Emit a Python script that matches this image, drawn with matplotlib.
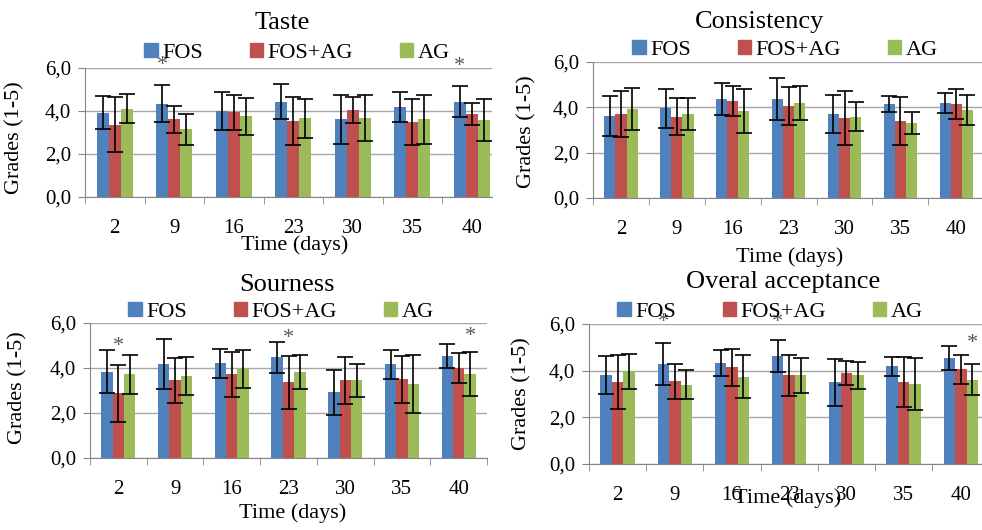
import numpy as np
import matplotlib
matplotlib.use('Agg')
import matplotlib.pyplot as plt
from matplotlib.patches import Rectangle
from matplotlib.ticker import FixedLocator, FuncFormatter

plt.rcParams['font.family'] = ['Liberation Serif', 'DejaVu Serif']

days = ['2', '9', '16', '23', '30', '35', '40']
groups = ['FOS', 'FOS+AG', 'AG']
colors = ['#4F81BD', '#C0504D', '#9BBB59']

# mean grades and standard deviations
taste_fos = [3.93, 4.33, 4.00, 4.44, 3.61, 4.20, 4.44]
taste_fos_sd = [0.76, 0.86, 0.88, 0.82, 1.13, 0.70, 0.72]
taste_mix = [3.35, 3.61, 3.94, 3.54, 4.05, 3.47, 3.86]
taste_mix_sd = [1.28, 0.63, 0.82, 1.10, 0.61, 1.07, 0.50]
taste_ag = [4.11, 3.15, 3.75, 3.66, 3.66, 3.61, 3.58]
taste_ag_sd = [0.69, 0.72, 0.87, 0.90, 1.07, 1.13, 0.97]

cons_fos = [3.63, 3.95, 4.36, 4.36, 3.69, 4.14, 4.20]
cons_fos_sd = [0.88, 0.87, 0.72, 0.94, 0.84, 0.34, 0.44]
cons_mix = [3.69, 3.59, 4.28, 4.06, 3.53, 3.41, 4.14]
cons_mix_sd = [1.02, 0.83, 0.66, 0.82, 1.17, 1.05, 0.66]
cons_ag = [3.91, 3.69, 3.84, 4.20, 3.59, 3.31, 3.88]
cons_ag_sd = [0.93, 0.71, 0.96, 0.76, 0.64, 0.50, 0.65]

sour_fos = [3.84, 4.17, 4.21, 4.48, 2.92, 4.17, 4.54]
sour_fos_sd = [0.97, 1.12, 0.65, 0.69, 0.99, 0.64, 0.53]
sour_mix = [2.87, 3.45, 3.72, 3.36, 3.45, 3.50, 3.99]
sour_mix_sd = [1.27, 1.00, 0.99, 1.17, 1.06, 1.05, 0.66]
sour_ag = [3.72, 3.66, 3.96, 3.84, 3.45, 3.29, 3.72]
sour_ag_sd = [0.86, 0.84, 0.86, 0.76, 0.75, 1.27, 0.97]

acc_fos = [3.80, 4.30, 4.33, 4.64, 3.50, 4.18, 4.54]
acc_fos_sd = [0.82, 0.90, 0.57, 0.69, 1.00, 0.39, 0.52]
acc_mix = [3.50, 3.54, 4.15, 3.80, 3.90, 3.50, 4.07]
acc_mix_sd = [1.16, 0.74, 0.80, 0.88, 0.53, 1.07, 0.62]
acc_ag = [3.97, 3.40, 3.75, 3.80, 3.80, 3.44, 3.61]
acc_ag_sd = [0.76, 0.61, 0.92, 0.74, 0.57, 1.12, 0.66]

# significance stars: (day index, group index, height)
taste_stars = [(1, 0, 6.1), (6, 0, 6.05)]
cons_stars = []
sour_stars = [(0, 1, 4.95), (3, 1, 5.3), (6, 2, 5.4)]
acc_stars = [(1, 0, 6.05), (3, 0, 6.05), (6, 2, 5.15)]

W, H = 982, 530
fig = plt.figure(figsize=(W / 100, H / 100), dpi=100)
grey = '#868686'


def draw_panel(box, xmax, title, title_xy, leg_xy, means, sds, stars, xlab_xy, ylab_xy):
    x0, x1, ytop, ybot = box
    ax = fig.add_axes([x0 / W, 1 - ybot / H, (x1 - x0) / W, (ybot - ytop) / H])
    x = np.arange(len(days))
    bw = 0.2
    for i in range(3):
        ax.bar(x + (i - 1) * bw, means[i], bw, color=colors[i], zorder=2)
        ax.errorbar(x + (i - 1) * bw, means[i], yerr=sds[i], fmt='none',
                    ecolor='black', elinewidth=1.2, capsize=5.5, capthick=1.2, zorder=3)
    for d, g, h in stars:
        ax.text(d + (g - 1) * bw, h, '*', ha='center', va='center', fontsize=16,
                color='#595959', clip_on=False)

    ax.set_ylim(0, 6)
    ax.set_xlim(-0.5, xmax)
    ax.set_yticks([0, 2, 4, 6])
    ax.yaxis.set_major_formatter(FuncFormatter(lambda v, p: ('%.1f' % v).replace('.', ',')))
    ax.set_xticks(x)
    ax.set_xticklabels(days)
    ax.xaxis.set_minor_locator(FixedLocator(np.arange(-0.5, 7, 1)))
    ax.tick_params(axis='x', which='major', length=0, pad=16, labelsize=15)
    ax.tick_params(axis='x', which='minor', length=5, color=grey, direction='out')
    ax.tick_params(axis='y', length=5, color=grey, pad=5, labelsize=15)
    ax.grid(axis='y', color='#A6A6A6', linewidth=1, zorder=0)
    for s in ['top', 'right']:
        ax.spines[s].set_visible(False)
    for s in ['left', 'bottom']:
        ax.spines[s].set_color(grey)

    ax.set_xlabel('Time (days)', fontsize=16)
    ax.xaxis.label.set_va('center')
    ax.xaxis.set_label_coords((xlab_xy[0] - x0) / (x1 - x0), -(xlab_xy[1] - ybot) / (ybot - ytop))
    ax.set_ylabel('Grades (1-5)', fontsize=16)
    ax.yaxis.label.set_va('center')
    ax.yaxis.set_label_coords((ylab_xy[0] - x0) / (x1 - x0), (ybot - ylab_xy[1]) / (ybot - ytop))

    fig.text(title_xy[0] / W, 1 - title_xy[1] / H, title, ha='center', va='center', fontsize=19)
    handles = [Rectangle((0, 0), 1, 1, color=c) for c in colors]
    ax.legend(handles, groups, loc='center', ncol=3, frameon=False, fontsize=16,
              handlelength=0.6, handleheight=0.6, handletextpad=0.2, columnspacing=2.1,
              bbox_to_anchor=(leg_xy[0] / W, 1 - leg_xy[1] / H), bbox_transform=fig.transFigure)
    return ax


draw_panel((85, 492, 68, 197), 6.34, 'Taste', (282, 23), (297, 53),
           [taste_fos, taste_mix, taste_ag], [taste_fos_sd, taste_mix_sd, taste_ag_sd],
           taste_stars, (295, 245), (15, 138))
draw_panel((593, 982, 62, 198), 6.46, 'Consistency', (760, 22), (785, 50),
           [cons_fos, cons_mix, cons_ag], [cons_fos_sd, cons_mix_sd, cons_ag_sd],
           cons_stars, (790, 257), (527, 132))
draw_panel((90, 487, 323, 458), 6.5, 'Sourness', (287, 285), (281, 312),
           [sour_fos, sour_mix, sour_ag], [sour_fos_sd, sour_mix_sd, sour_ag_sd],
           sour_stars, (293, 513), (18, 388))
draw_panel((589, 982, 324, 464), 6.37, 'Overal acceptance', (783, 282), (770, 312),
           [acc_fos, acc_mix, acc_ag], [acc_fos_sd, acc_mix_sd, acc_ag_sd],
           acc_stars, (788, 498), (522, 394))

fig.savefig('out.png', dpi=100)
